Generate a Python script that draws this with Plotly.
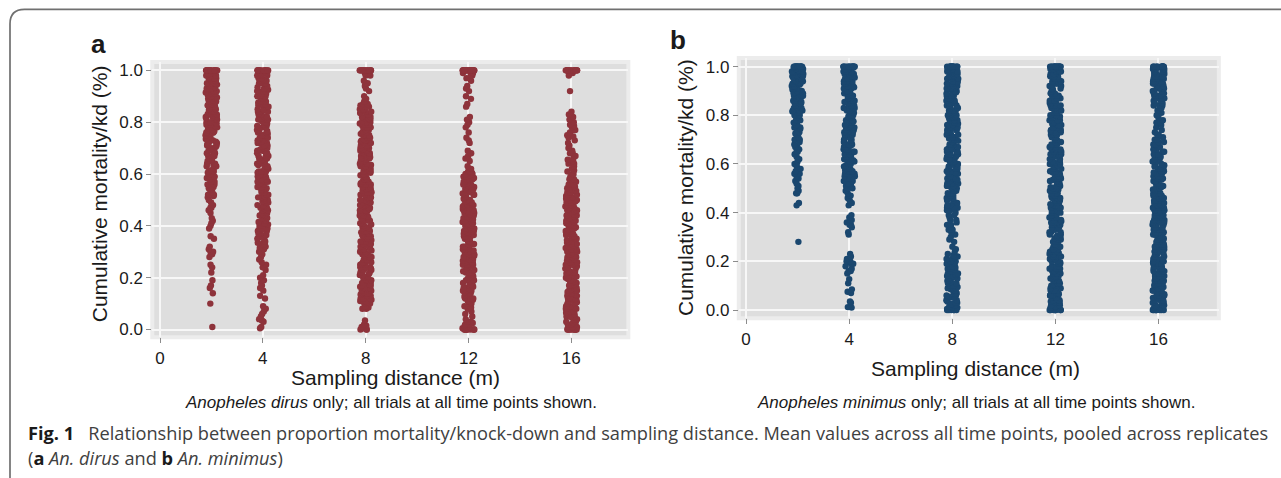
import plotly.graph_objects as go

# ---------------- data ----------------
DISTANCES = [2, 4, 8, 12, 16]
X_TICKS = [0, 4, 8, 12, 16]
X_TICKTEXT = ["0", "4", "8", "12", "16"]
Y_TICKS = [0.0, 0.2, 0.4, 0.6, 0.8, 1.0]
Y_TICKTEXT = ["0.0", "0.2", "0.4", "0.6", "0.8", "1.0"]

# Anopheles dirus: cumulative mortality/kd per trial & time point
DIRUS_2 = [
    1, 1, 1, 1, 1, 1, 1, 1, 1, 1, 1, 1, 1, 1, 1,
    .99, .99, .98, .98, .97, .97, .96, .96, .96, .95, .95, .94, .94, .93, .93, .92, .92, .91, .91, .90, .90, .99, .97, .95, .93, .91,
    .995, .985, .975, .965, .955, .945, .935, .925, .915, .905, .97, .94,
    .89, .89, .88, .88, .87, .87, .86, .86, .85, .85, .84, .84, .83, .83, .82, .82, .81, .81, .80, .80, .88, .86, .84, .82,
    .895, .885, .875, .865, .855, .845, .835, .825, .815, .805, .87, .83,
    .79, .79, .78, .78, .77, .77, .76, .76, .75, .75, .74, .74, .73, .72, .72, .71, .71, .70, .78, .76, .73,
    .795, .785, .775, .765, .755, .745, .735, .725, .715, .705,
    .69, .69, .68, .67, .67, .66, .65, .65, .64, .63, .63, .62, .61, .61, .60, .68, .64,
    .695, .675, .655, .635, .615, .605,
    .59, .59, .58, .57, .57, .56, .55, .55, .54, .53, .52, .52, .51, .50, .56, .585, .545, .515,
    .49, .48, .47, .47, .46, .45,
    .43, .42, .41, .40, .39, .36, .35, .32, .31, .30, .30, .29, .28, .25, .24, .22, .19, .17, .16, .14, .10, .01]

DIRUS_4 = [
    1, 1, 1, 1, 1, 1, 1, 1, 1, 1, 1, 1,
    .99, .99, .98, .98, .97, .97, .96, .96, .95, .95, .94, .94, .93, .93, .92, .92, .91, .91, .90, .90, .98, .95, .92,
    .995, .985, .965, .955, .935, .925, .905,
    .89, .89, .88, .88, .87, .87, .86, .86, .85, .85, .84, .84, .83, .83, .82, .82, .81, .81, .80, .80, .87, .84, .81,
    .895, .875, .865, .845, .835, .815, .805,
    .79, .79, .78, .78, .77, .77, .76, .76, .75, .75, .74, .74, .73, .73, .72, .72, .71, .71, .70, .70, .78, .75, .72,
    .795, .785, .765, .755, .735, .725, .705,
    .69, .69, .68, .68, .67, .67, .66, .66, .65, .65, .64, .64, .63, .63, .62, .62, .61, .61, .60, .60, .67, .64, .61,
    .695, .685, .665, .655, .635, .625, .605,
    .59, .59, .58, .58, .57, .57, .56, .56, .55, .55, .54, .54, .53, .53, .52, .52, .51, .51, .50, .50, .57, .54,
    .595, .575, .565, .545, .535, .515, .505,
    .49, .49, .48, .48, .47, .47, .46, .46, .45, .45, .44, .44, .43, .43, .42, .42, .41, .41, .40, .40, .46,
    .495, .475, .465, .445, .435, .415, .405,
    .39, .39, .38, .38, .37, .37, .36, .36, .35, .35, .34, .34, .33, .33, .32, .31, .30, .30,
    .385, .365, .355, .335, .315,
    .29, .28, .27, .26, .25, .24, .23, .21, .20, .19, .18, .17, .16, .15, .13, .12, .09, .08, .07, .06, .05, .04, .035, .03, .01, .005]

DIRUS_8 = [
    1, 1, 1, 1, 1, 1, 1, 1, 1, 1, 1, 1, 1, 1, .99, .99, .98, .98,
    .96, .95, .95, .94, .93, .92, .90, .89, .88,
    .87, .87, .86, .86, .85, .85, .84, .84, .84, .83, .82, .82, .81, .81, .80, .80, .86, .83, .81,
    .865, .845, .835, .815, .805,
    .79, .79, .78, .78, .78, .77, .76, .76, .75, .75, .74, .74, .73, .73, .72, .72, .71, .71, .70, .70, .77, .75, .73, .71, .79,
    .795, .785, .765, .755, .735, .725, .705,
    .69, .69, .68, .68, .67, .67, .67, .66, .65, .65, .64, .64, .63, .63, .62, .62, .61, .61, .60, .60, .68, .66, .64, .62,
    .695, .685, .665, .655, .635, .625, .605,
    .59, .59, .58, .58, .57, .57, .56, .56, .56, .55, .54, .54, .53, .53, .52, .52, .51, .51, .50, .50, .58, .55, .53, .51,
    .595, .585, .565, .545, .535, .515, .505,
    .49, .49, .48, .48, .47, .47, .46, .46, .45, .45, .45, .44, .43, .43, .42, .42, .41, .41, .40, .40, .48, .46, .44, .42,
    .495, .475, .465, .455, .435, .425, .405,
    .39, .39, .38, .38, .37, .37, .36, .36, .35, .35, .34, .34, .34, .33, .32, .32, .31, .31, .30, .30, .38, .36, .33, .31,
    .395, .375, .365, .345, .325, .315, .305,
    .29, .29, .28, .28, .27, .27, .26, .26, .25, .25, .24, .24, .23, .23, .23, .22, .21, .21, .20, .20, .28, .26, .24, .22,
    .295, .285, .265, .255, .235, .215, .205,
    .19, .19, .18, .18, .17, .17, .16, .16, .15, .15, .14, .14, .13, .13, .12, .12, .12, .11, .11, .10, .10, .18, .16, .14,
    .195, .175, .165, .145, .135, .115, .105,
    .09, .09, .085, .08, .08,
    .035, .02, .015, .01, .005, 0, 0, 0]

DIRUS_12 = [
    1, 1, 1, 1, 1, 1, 1, 1, 1, 1, 1, 1, 1, 1, 1, 1, 1, 1, 1, 1, 1, 1, .99, .99, .99, .98, .98, .97,
    .96, .94, .93, .92, .90, .89, .87, .86, .82, .81, .80, .79, .78, .76, .74, .73, .72, .69, .68, .67, .66, .65, .63, .62,
    .61, .61, .60, .60, .605,
    .59, .59, .58, .58, .58, .57, .57, .56, .56, .55, .55, .55, .54, .54, .53, .53, .52, .52, .52, .51, .51, .50, .50, .585, .565, .545, .525, .505,
    .595, .575, .555, .535, .515,
    .49, .49, .48, .48, .48, .47, .47, .46, .46, .45, .45, .45, .44, .44, .43, .43, .42, .42, .42, .41, .41, .40, .40, .485, .465, .445, .425, .405,
    .495, .475, .455, .435, .415,
    .39, .39, .38, .38, .38, .37, .37, .36, .36, .35, .35, .35, .34, .34, .33, .33, .32, .32, .32, .31, .31, .30, .30, .385, .365, .345, .325, .305,
    .395, .375, .355, .335, .315,
    .29, .29, .28, .28, .28, .27, .27, .26, .26, .25, .25, .25, .24, .24, .23, .23, .22, .22, .22, .21, .21, .20, .20, .285, .265, .245, .225, .205,
    .295, .275, .255, .235, .215,
    .19, .19, .18, .18, .18, .17, .17, .16, .16, .15, .15, .15, .14, .14, .13, .13, .12, .12, .12, .11, .11, .10, .10, .185, .165, .145, .125, .105,
    .195, .175, .155, .135, .115,
    .09, .085, .08, .07, .06, .05, .04, .03, .03, .02, .02, .01, .01, .005, .025, .015, 0, 0, 0, 0, 0, 0, 0, 0, 0, 0]

DIRUS_16 = [
    1, 1, 1, 1, 1, 1, 1, 1, 1, 1, 1, 1, 1, 1, 1, 1, .99, .99, .98,
    .92, .84, .83,
    .82, .81, .80, .79, .78, .77, .77, .76, .75, .74, .73, .72, .71, .70, .745, .785,
    .69, .68, .68, .67, .66, .65, .64, .64, .63, .62, .61, .60, .60, .655, .615,
    .59, .58, .58, .57, .56, .56, .55, .55, .555, .575, .545,
    .54, .54, .53, .53, .53, .52, .52, .51, .51, .50, .50, .535, .515, .505,
    .49, .49, .48, .48, .48, .47, .47, .46, .46, .45, .45, .45, .44, .44, .43, .43, .42, .42, .42, .41, .41, .40, .40, .485, .465, .445, .425, .405, .475, .435,
    .495, .455, .415,
    .39, .39, .38, .38, .38, .37, .37, .36, .36, .35, .35, .35, .34, .34, .33, .33, .32, .32, .32, .31, .31, .30, .30, .385, .365, .345, .325, .305, .375, .335,
    .395, .355, .315,
    .29, .29, .28, .28, .28, .27, .27, .26, .26, .25, .25, .25, .24, .24, .23, .23, .22, .22, .22, .21, .21, .20, .20, .285, .265, .245, .225, .205, .275, .235,
    .295, .255, .215,
    .19, .19, .18, .18, .18, .17, .17, .16, .16, .15, .15, .15, .14, .14, .13, .13, .12, .12, .12, .11, .11, .10, .10, .185, .165, .145, .125, .105, .175, .135,
    .195, .155, .115,
    .09, .09, .08, .08, .08, .07, .07, .06, .06, .05, .05, .05, .04, .04, .03, .03, .02, .02, .02, .01, .01, .005, .085, .065, .045, .025,
    0, 0, 0, 0, 0, 0, 0, 0, 0, 0]

# Anopheles minimus
MINIMUS_2 = [
    1, 1, 1, 1, 1, 1, 1, 1, 1, 1, 1, 1, 1, 1, 1, 1,
    .99, .99, .98, .98, .97, .97, .96, .96, .95, .95, .94, .94, .93, .93, .92, .92, .91, .91, .90, .90, .98, .96, .94, .92, .90, .97, .93,
    .995, .985, .975, .965, .955, .945, .935, .925, .915, .905,
    .89, .89, .88, .88, .87, .87, .86, .86, .85, .85, .84, .84, .83, .83, .82, .82, .81, .81, .80, .80, .88, .85, .82,
    .895, .875, .855, .835, .815, .805,
    .79, .78, .78, .77, .76, .75, .75, .74, .73, .72, .71, .70, .70, .76, .745, .725,
    .69, .68, .67, .67, .66, .65, .64, .63, .62, .62, .61, .60, .60, .65,
    .59, .58, .57, .56, .56, .55, .54, .53, .52, .51, .50,
    .49, .48, .48, .44, .43, .28]

MINIMUS_4 = [
    1, 1, 1, 1, 1, 1, 1, 1, 1, 1, 1, 1, 1, 1,
    .99, .99, .98, .98, .97, .97, .96, .96, .95, .95, .94, .94, .93, .93, .92, .92, .91, .91, .90, .90, .98, .96, .94, .92, .97, .93,
    .995, .975, .955, .935, .915,
    .89, .89, .88, .88, .87, .87, .86, .86, .85, .85, .84, .84, .83, .83, .82, .82, .81, .81, .80, .80, .88, .86, .84, .82, .87, .83,
    .895, .875, .855, .835, .815,
    .79, .79, .78, .78, .77, .77, .76, .76, .75, .75, .74, .74, .73, .73, .72, .72, .71, .71, .70, .70, .78, .75, .72, .71,
    .795, .775, .755, .735, .715,
    .69, .69, .68, .68, .67, .67, .66, .66, .65, .65, .64, .64, .63, .63, .62, .62, .61, .61, .60, .60, .68, .65, .62, .66,
    .695, .675, .655, .635, .615,
    .59, .59, .58, .58, .57, .57, .56, .56, .55, .55, .54, .54, .53, .53, .52, .52, .51, .51, .50, .50, .57, .54,
    .595, .575, .555, .535, .515,
    .49, .48, .47, .46, .45, .44, .43,
    .39, .38, .37, .37, .36, .35, .35, .34, .32, .31,
    .23, .22, .21, .21, .20, .20, .19, .19, .18, .17, .16, .16, .15,
    .127, .11, .085, .075, .07, .035, .03, .012, .01]

MINIMUS_8 = [
    1, 1, 1, 1, 1, 1, 1, 1, 1, 1, 1, 1, 1, 1,
    .99, .99, .98, .98, .97, .97, .96, .96, .95, .95, .94, .94, .93, .93, .92, .92, .91, .91, .90, .90, .98, .96, .94, .92, .97, .95, .93, .91,
    .995, .965, .935, .905,
    .89, .89, .88, .88, .87, .87, .86, .86, .85, .85, .84, .84, .83, .83, .82, .82, .81, .81, .80, .80, .88, .86, .84, .82, .85,
    .895, .865, .835, .805,
    .79, .79, .78, .78, .77, .77, .76, .76, .75, .75, .74, .74, .73, .73, .72, .72, .71, .71, .70, .70, .78, .76, .74, .72, .75,
    .795, .765, .735, .705,
    .69, .69, .68, .68, .67, .67, .66, .66, .65, .65, .64, .64, .63, .63, .62, .62, .61, .61, .60, .60, .68, .66, .64, .62, .65,
    .695, .665, .635, .605,
    .59, .59, .58, .58, .57, .57, .56, .56, .55, .55, .54, .54, .53, .53, .52, .52, .51, .51, .50, .50, .58, .56, .54, .52, .55,
    .595, .565, .535, .505,
    .49, .49, .48, .48, .47, .47, .46, .46, .45, .45, .44, .44, .43, .43, .42, .42, .41, .41, .48, .46, .44, .42,
    .40, .39, .39, .38, .37, .37,
    .36, .35, .35, .34, .33, .33, .32, .31, .30, .29, .28, .26,
    .25, .24,
    .23, .22, .22, .21, .21, .20, .20, .20, .19, .19, .18, .18, .17, .17, .16, .16, .15, .15, .14, .14, .13, .13, .12, .12, .11, .11, .10, .10,
    .225, .195, .165, .145, .115,
    .09, .09, .08, .08, .07, .07, .06, .06, .05, .05, .04, .04, .03, .03, .02, .02, .01, .01, .005, .215, .175, .135, .095, .055, .025,
    .085, .065, .035, .015,
    0, 0, 0, 0, 0, 0]

MINIMUS_12 = [
    1, 1, 1, 1, 1, 1, 1, 1, 1, 1, 1, 1, 1, 1, 1, 1,
    .99, .99, .98, .98, .97, .97, .96, .96, .95, .95, .94, .94, .93, .93, .92, .92, .91, .91, .90, .90, .98, .96, .94, .92, .97, .95,
    .995, .965, .935, .905,
    .89, .89, .88, .88, .87, .87, .86, .86, .85, .85, .84, .84, .83, .83, .82, .82, .81, .81, .80, .80, .88, .86, .84, .82, .85, .87,
    .795, .765, .735, .705,
    .79, .79, .78, .78, .77, .77, .76, .76, .75, .75, .74, .74, .73, .73, .72, .72, .71, .71, .70, .70, .78, .76, .74, .72, .75, .73,
    .695, .665, .635, .605,
    .69, .69, .68, .68, .67, .67, .66, .66, .65, .65, .64, .64, .63, .63, .62, .62, .61, .61, .60, .60, .68, .66, .64, .62, .65, .67,
    .595, .565, .535, .505,
    .59, .59, .58, .58, .57, .57, .56, .56, .55, .55, .54, .54, .53, .53, .52, .52, .51, .51, .50, .50, .58, .56, .54, .52, .55, .53,
    .495, .465, .435, .405,
    .49, .49, .48, .48, .47, .47, .46, .46, .45, .45, .44, .44, .43, .43, .42, .42, .41, .41, .40, .40, .48, .46, .44, .42, .45, .47,
    .395, .365, .335, .305,
    .39, .39, .38, .38, .37, .37, .36, .36, .35, .35, .34, .34, .33, .33, .32, .32, .31, .31, .30, .30, .38, .36, .34, .32, .35,
    .295, .265, .235, .205,
    .29, .29, .28, .28, .27, .27, .26, .26, .25, .25, .24, .24, .23, .23, .22, .22, .21, .21, .20, .20, .28, .26, .24, .22, .25,
    .195, .165, .135, .105,
    .19, .19, .18, .18, .17, .17, .16, .16, .15, .15, .14, .14, .13, .13, .12, .12, .11, .11, .10, .10, .18, .16, .14, .12, .15, .17,
    .095, .065, .035, .015,
    .09, .09, .08, .08, .07, .07, .06, .06, .05, .05, .04, .04, .03, .03, .02, .02, .01, .01, .005, .08, .06, .04, .02,
    0, 0, 0, 0, 0, 0, 0, 0]

MINIMUS_16 = [
    1, 1, 1, 1, 1, 1, 1, 1, 1, 1, 1, 1, 1, 1,
    .99, .99, .98, .98, .97, .97, .96, .96, .95, .95, .94, .94, .93, .93, .92, .92, .91, .91, .90, .90, .98, .96, .94, .92, .97, .95, .93, .91, .99, .96,
    .995, .975, .955, .935, .915,
    .89, .89, .88, .88, .87, .87, .86, .86, .85, .85, .84, .84, .83, .83, .88, .86, .84, .87, .85, .89,
    .82, .81, .80, .79, .78, .77, .77, .76, .75, .74, .73, .72, .72, .71, .70, .70,
    .69, .69, .68, .68, .67, .66, .66, .65, .65, .64, .64, .63, .63, .62, .62, .61, .61, .60, .60, .67,
    .59, .59, .58, .58, .57, .57, .56, .56, .55, .55, .54, .54, .53, .53, .52, .52, .51, .51, .50, .50, .58, .55,
    .595, .565, .535, .505,
    .49, .49, .48, .48, .47, .47, .46, .46, .45, .45, .44, .44, .43, .43, .42, .42, .41, .41, .40, .40, .48, .46, .44, .42, .45, .47, .43, .41,
    .495, .465, .435, .405,
    .39, .39, .38, .38, .37, .37, .36, .36, .35, .35, .34, .34, .33, .33, .32, .32, .31, .31, .30, .30, .38, .36, .34, .32, .35, .37, .33, .31, .39, .36,
    .395, .365, .335, .305,
    .29, .29, .28, .28, .27, .27, .26, .26, .25, .25, .24, .24, .23, .23, .22, .22, .21, .21, .20, .20, .28, .26, .24, .22, .25, .27, .23, .21, .29, .26,
    .295, .265, .235, .205,
    .19, .19, .18, .18, .17, .17, .16, .16, .15, .15, .14, .14, .13, .13, .12, .12, .11, .11, .10, .10, .18, .16, .14, .12, .15, .17, .13, .11, .19, .16,
    .195, .165, .135, .105,
    .09, .09, .08, .08, .07, .07, .06, .06, .05, .05, .04, .04, .03, .03, .02, .02, .01, .01, .005, .08, .06, .04, .02, .07, .05, .03,
    .095, .065, .035, .015,
    0, 0, 0, 0, 0, 0, 0, 0]

DIRUS = [DIRUS_2, DIRUS_4, DIRUS_8, DIRUS_12, DIRUS_16]
MINIMUS = [MINIMUS_2, MINIMUS_4, MINIMUS_8, MINIMUS_12, MINIMUS_16]

# ---------------- style ----------------
W, H = 1281, 478
MAROON = "#8E333B"
NAVY = "#1A476F"
FONT = "Liberation Sans, Arial, Helvetica, sans-serif"
TXT = "#1a1a1a"


def fx(p):
    return p / W


def fy(p):
    return 1 - p / H


def stack(groups):
    xs, ys = [], []
    for d, vals in zip(DISTANCES, groups):
        xs += [d] * len(vals)
        ys += list(vals)
    return xs, ys


fig = go.Figure()
for species, color, xa, ya in [(DIRUS, MAROON, "x", "y"), (MINIMUS, NAVY, "x2", "y2")]:
    xs, ys = stack(species)
    fig.add_trace(go.Box(
        x=xs, y=ys, xaxis=xa, yaxis=ya,
        boxpoints="all", jitter=1, pointpos=0, width=0.46,
        fillcolor="rgba(0,0,0,0)", line=dict(color="rgba(0,0,0,0)", width=0),
        whiskerwidth=0,
        marker=dict(color=color, size=6.4, opacity=1, line=dict(width=0)),
        hoveron="points", showlegend=False))

axis_common = dict(
    showgrid=True, gridcolor="#f7f7f7", gridwidth=1.6, zeroline=False, showline=False,
    ticks="outside", ticklen=5, tickwidth=1, tickcolor="#8c8c8c",
    tickfont=dict(family=FONT, size=17, color=TXT))

fig.update_layout(
    width=W, height=H, autosize=False,
    margin=dict(l=0, r=0, t=0, b=0, pad=0),
    paper_bgcolor="white", plot_bgcolor="#dedede",
    xaxis=dict(domain=[fx(152.3), fx(628.3)], range=[-0.30, 18.22], anchor="y",
               tickvals=X_TICKS, ticktext=X_TICKTEXT, **axis_common),
    yaxis=dict(domain=[fy(338.3), fy(61.5)], range=[-0.0295, 1.0318], anchor="x",
               tickvals=Y_TICKS, ticktext=Y_TICKTEXT, **axis_common),
    xaxis2=dict(domain=[fx(738.8), fx(1218.8)], range=[-0.283, 18.34], anchor="y2",
                tickvals=X_TICKS, ticktext=X_TICKTEXT, **axis_common),
    yaxis2=dict(domain=[fy(319.3), fy(57.3)], range=[-0.0339, 1.0355], anchor="x2",
                tickvals=Y_TICKS, ticktext=Y_TICKTEXT, **axis_common),
)

# light panel rim
for xr, yr in [("x domain", "y domain"), ("x2 domain", "y2 domain")]:
    fig.add_shape(type="rect", xref=xr, yref=yr, x0=0, x1=1, y0=0, y1=1,
                  line=dict(color="#ececec", width=4), layer="below")

# rounded frame (top-left corner)
frame = (f"M {fx(10)} {fy(480)} L {fx(10)} {fy(23)} "
         f"Q {fx(10)} {fy(8.5)} {fx(24.5)} {fy(8.5)} L {fx(1290)} {fy(8.5)}")
fig.add_shape(type="path", xref="paper", yref="paper", path=frame,
              line=dict(color="#707070", width=1.7))


def ann(text, x, y, size, family=FONT, color=TXT, angle=0, xanchor="center", yanchor="middle"):
    fig.add_annotation(text=text, x=fx(x), y=fy(y), xref="paper", yref="paper",
                       showarrow=False, textangle=angle, xanchor=xanchor, yanchor=yanchor,
                       borderpad=0,
                       font=dict(family=family, size=size, color=color))


# panel letters
ann("<b>a</b>", 98, 43.2, 26)
ann("<b>b</b>", 678, 39.2, 26)
# axis titles
ann("Sampling distance (m)", 395.9, 378.6, 21)
ann("Sampling distance (m)", 975.9, 369.5, 21)
ann("Cumulative mortality/kd (%)", 99.6, 193.9, 21, angle=-90)
ann("Cumulative mortality/kd (%)", 685.7, 187.5, 21, angle=-90)
# panel captions
ann("<i>Anopheles dirus</i> only; all trials at all time points shown.", 390.6, 404.3, 17)
ann("<i>Anopheles minimus</i> only; all trials at all time points shown.", 975.8, 404.3, 17)
# figure caption
CAP = "Open Sans, Lato, sans-serif"
ann("<span style='color:#1a1a1a'><b>Fig. 1</b></span>&nbsp;&nbsp; Relationship between proportion mortality/knock-down "
    "and sampling distance. Mean values across all time points, pooled across replicates",
    27, 435.0, 18.2, family=CAP, color="#404040", xanchor="left")
ann("(<span style='color:#1a1a1a'><b>a</b></span> <i>An. dirus</i> and "
    "<span style='color:#1a1a1a'><b>b</b></span> <i>An. minimus</i>)",
    27, 459.5, 18.2, family=CAP, color="#404040", xanchor="left")

fig.write_html("out.html")
